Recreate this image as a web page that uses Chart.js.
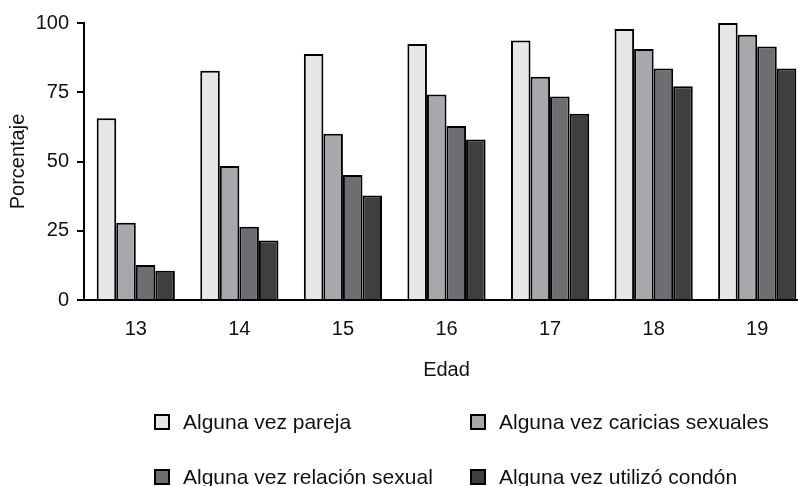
<!DOCTYPE html>
<html>
<head>
<meta charset="utf-8">
<script src="https://cdn.jsdelivr.net/npm/chart.js@4/dist/chart.umd.min.js"></script>
<style>
  html, body { margin: 0; padding: 0; background: #fff; }
  #wrap { position: relative; width: 798px; height: 486px; overflow: hidden; font-family: "Liberation Sans", Arial, sans-serif; }
  #c { position: absolute; left: 0; top: 0; }
  .leg { position: absolute; display: flex; align-items: center; font-size: 21px; color: #111; white-space: nowrap; height: 24px; }
  .leg .box { width: 12px; height: 12px; border: 2px solid #000; margin-right: 13px; box-sizing: content-box; }
</style>
</head>
<body>
<div id="wrap">
  <canvas id="c" width="809" height="486"></canvas>
  <div id="legend"></div>
</div>
<script>
const categories = ["13", "14", "15", "16", "17", "18", "19"];
const seriesNames = ["Alguna vez pareja", "Alguna vez caricias sexuales", "Alguna vez relación sexual", "Alguna vez utilizó condón"];
const pareja   = [65.6, 82.8, 88.8, 92.4, 93.7, 97.8, 100];
const caricias = [27.9, 48.4, 60.0, 74.2, 80.6, 90.6, 95.8];
const relacion = [12.6, 26.4, 45.1, 62.8, 73.5, 83.6, 91.5];
const condon   = [10.6, 21.5, 37.7, 57.9, 67.2, 77.2, 83.6];
const yTicks = [0, 25, 50, 75, 100];
const colors = ["#e6e7e9", "#a7a8ab", "#6d6e71", "#3f3f3f"];
const seriesValues = [pareja, caricias, relacion, condon];

const font = "'Liberation Sans', Arial, sans-serif";

new Chart(document.getElementById('c'), {
  type: 'bar',
  data: {
    labels: categories,
    datasets: seriesValues.map((vals, i) => ({
      label: seriesNames[i],
      data: vals,
      backgroundColor: colors[i],
      borderColor: '#000',
      borderWidth: 2,
      borderSkipped: 'bottom',
      categoryPercentage: 0.755,
      barPercentage: 1.0
    }))
  },
  options: {
    responsive: false,
    animation: false,
    layout: { padding: { left: 0, top: 23, right: 0, bottom: 104 } },
    plugins: { legend: { display: false }, tooltip: { enabled: false } },
    scales: {
      x: {
        grid: { display: false, drawTicks: false },
        border: { color: '#000', width: 2 },
        ticks: { color: '#111', font: { family: font, size: 20 }, padding: 17 },
        title: { display: true, text: 'Edad', color: '#111', font: { family: font, size: 20 }, padding: { top: 0, bottom: 0 } }
      },
      y: {
        min: 0, max: 100,
        afterBuildTicks: (ax) => { ax.ticks = yTicks.map(v => ({ value: v })); },
        afterFit: (ax) => { ax.width = 84; },
        grid: { drawOnChartArea: false, drawTicks: true, tickLength: 7, color: '#000', lineWidth: 2 },
        border: { color: '#000', width: 2 },
        ticks: { color: '#111', font: { family: font, size: 20 }, padding: 8 },
        title: { display: true, text: 'Porcentaje', color: '#111', font: { family: font, size: 20 }, padding: { top: 6, bottom: 0 } }
      }
    }
  }
});

const legendPos = [[154, 422], [470, 422], [154, 477], [470, 477]];
const legEl = document.getElementById('legend');
seriesNames.forEach((name, i) => {
  const d = document.createElement('div');
  d.className = 'leg';
  d.style.left = legendPos[i][0] + 'px';
  d.style.top = (legendPos[i][1] - 12) + 'px';
  d.innerHTML = '<span class="box" style="background:' + colors[i] + '"></span><span>' + name + '</span>';
  legEl.appendChild(d);
});
</script>
</body>
</html>
